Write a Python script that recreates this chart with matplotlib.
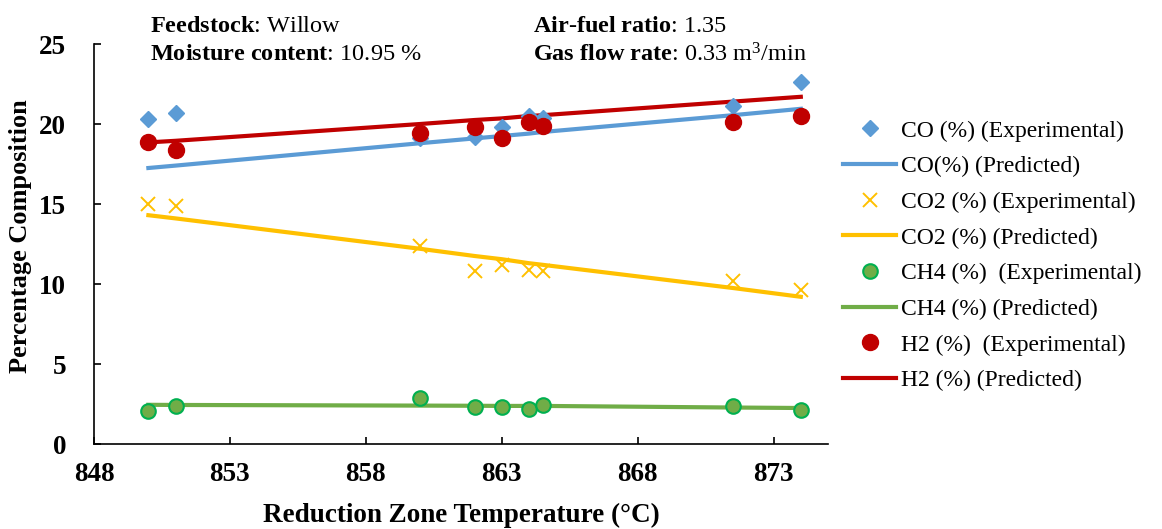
import matplotlib
matplotlib.use("Agg")
import matplotlib.pyplot as plt

plt.rcParams["font.family"] = ["Liberation Serif", "DejaVu Serif"]
plt.rcParams["mathtext.fontset"] = "custom"
plt.rcParams["mathtext.rm"] = "Liberation Serif"
plt.rcParams["mathtext.it"] = "Liberation Serif:italic"
plt.rcParams["mathtext.bf"] = "Liberation Serif:bold"
plt.rcParams["mathtext.default"] = "regular"

# Reduction zone temperature (°C)
temperature = [850, 851, 860, 862, 863, 864, 864.5, 871.5, 874]

# Measured gas composition (%)
co_exp = [20.3, 20.7, 19.1, 19.2, 19.8, 20.5, 20.4, 21.1, 22.6]
co2_exp = [15.0, 14.9, 12.4, 10.8, 11.2, 10.9, 10.8, 10.2, 9.6]
ch4_exp = [2.05, 2.4, 2.9, 2.3, 2.3, 2.2, 2.45, 2.35, 2.1]
h2_exp = [18.85, 18.35, 19.45, 19.8, 19.15, 20.1, 19.85, 20.15, 20.5]

# Model predictions (%)
co_pred = [17.25, 17.4, 18.8, 19.1, 19.25, 19.4, 19.5, 20.55, 20.95]
co2_pred = [14.3, 14.1, 12.2, 11.75, 11.55, 11.3, 11.2, 9.75, 9.2]
ch4_pred = [2.45, 2.44, 2.4, 2.39, 2.38, 2.38, 2.38, 2.28, 2.25]
h2_pred = [18.85, 18.95, 20.0, 20.25, 20.35, 20.5, 20.55, 21.4, 21.7]

x_ticks = [848, 853, 858, 863, 868, 873]
y_ticks = [0, 5, 10, 15, 20, 25]

c_co, c_co2, c_ch4, c_h2 = "#5B9BD5", "#FFC000", "#70AD47", "#C00000"

fig = plt.figure(figsize=(11.62, 5.29), dpi=100)
ax = fig.add_axes([94 / 1162, 1 - 444 / 529, (828 - 94) / 1162, 400 / 529])

ax.plot(temperature, co_exp, linestyle="none", marker="D", ms=8.3,
        color=c_co, label="CO (%) (Experimental)", zorder=3)
ax.plot(temperature, co_pred, color=c_co, lw=3,
        label="CO(%) (Predicted)", zorder=2)
ax.plot(temperature, co2_exp, linestyle="none", marker="x", ms=10.5, mew=1.4,
        color=c_co2, label="CO2 (%) (Experimental)", zorder=3)
ax.plot(temperature, co2_pred, color=c_co2, lw=3,
        label="CO2 (%) (Predicted)", zorder=2)
ax.plot(temperature, ch4_exp, linestyle="none", marker="o", ms=10.5, mew=1.5,
        markerfacecolor=c_ch4, markeredgecolor="#00B050",
        label="CH4 (%)  (Experimental)", zorder=3)
ax.plot(temperature, ch4_pred, color=c_ch4, lw=3,
        label="CH4 (%) (Predicted)", zorder=2)
ax.plot(temperature, h2_exp, linestyle="none", marker="o", ms=11.5,
        color=c_h2, label="H2 (%)  (Experimental)", zorder=4)
ax.plot(temperature, h2_pred, color=c_h2, lw=3,
        label="H2 (%) (Predicted)", zorder=2)

ax.set_xlim(848, 875)
ax.set_ylim(0, 25)
ax.set_xticks(x_ticks)
ax.set_yticks(y_ticks)
for side in ("top", "right"):
    ax.spines[side].set_visible(False)
for side in ("left", "bottom"):
    ax.spines[side].set_linewidth(1.2)
ax.tick_params(direction="in", length=5, width=1.2)
ax.tick_params(axis="x", pad=13)
ax.tick_params(axis="y", pad=20)
for lab in ax.get_xticklabels() + ax.get_yticklabels():
    lab.set_fontsize(19.5)
    lab.set_fontweight("bold")

ax.set_xlabel("Reduction Zone Temperature (°C)", fontsize=19.5, fontweight="bold")
ax.set_ylabel("Percentage Composition", fontsize=19, fontweight="bold")
ax.xaxis.set_label_coords(0.5, -0.1475)
ax.yaxis.set_label_coords(-0.0845, 0.52)

ax.legend(loc="upper left", bbox_to_anchor=(843 / 1162, 1 - 120 / 529),
          bbox_transform=fig.transFigure, frameon=False, fontsize=17,
          handlelength=2.25, handletextpad=0.2, labelspacing=0.6,
          borderpad=0, borderaxespad=0)

fs = 17.5
fig.text(150 / 1162, 1 - 27 / 529, r"$\mathbf{Feedstock}$: Willow",
         fontsize=fs, va="center")
fig.text(150 / 1162, 1 - 55 / 529, r"$\mathbf{Moisture\ content}$: 10.95 %",
         fontsize=fs, va="center")
fig.text(533 / 1162, 1 - 27 / 529, r"$\mathbf{Air}$-$\mathbf{fuel\ ratio}$: 1.35",
         fontsize=fs, va="center")
fig.text(533 / 1162, 1 - 55 / 529,
         r"$\mathbf{Gas\ flow\ rate}$: 0.33 m$^{3}$/min",
         fontsize=fs, va="center")

fig.savefig("out.png", dpi=100)
